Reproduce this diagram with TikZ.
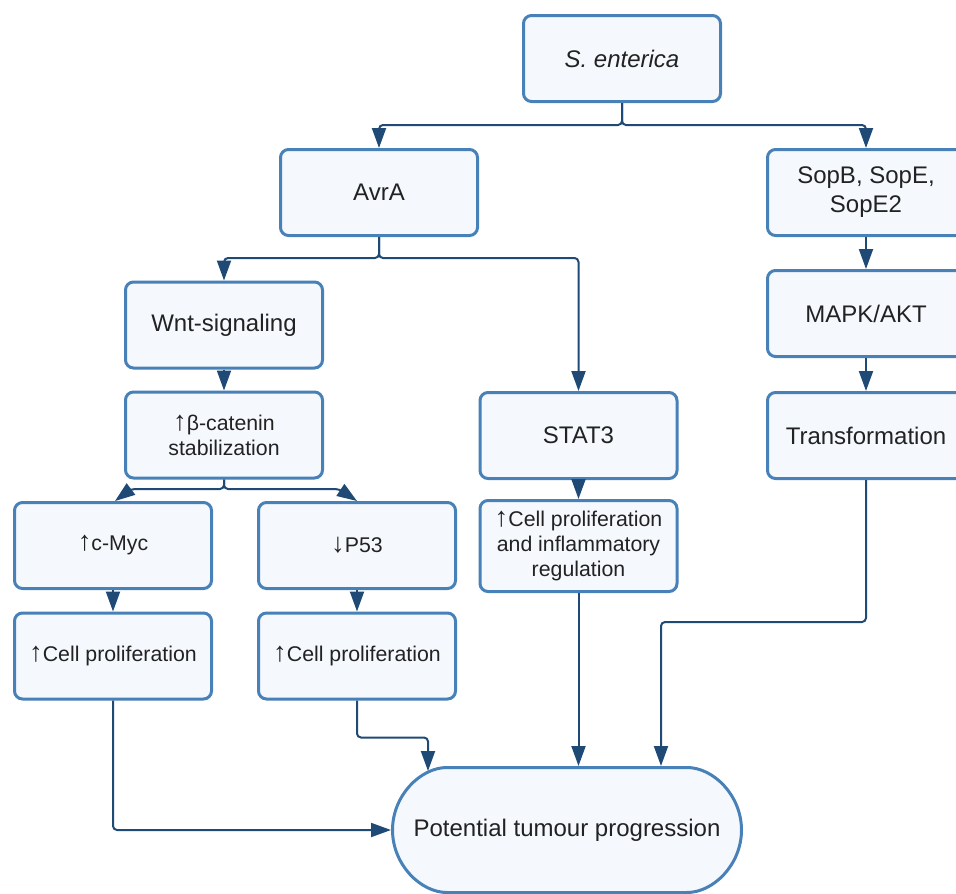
\documentclass[tikz,border=0pt]{standalone}
\usepackage{fontspec}
\usepackage{graphicx}
\setmainfont{Liberation Sans}
\usetikzlibrary{arrows.meta,shapes.misc,calc}
\definecolor{boxline}{RGB}{72,128,184}
\definecolor{boxfill}{RGB}{245,249,254}
\definecolor{wireblue}{RGB}{31,74,117}
\definecolor{ink}{RGB}{34,34,34}
% tall, slim up/down arrows used inside the labels
\newcommand\uparr{\resizebox{!}{0.72em}{↑}}
\newcommand\downarr{\resizebox{!}{0.72em}{↓}}

\begin{document}
\begin{tikzpicture}[x=1pt,y=-1pt,
  card/.style={draw=boxline, fill=boxfill, line width=3pt, rounded corners=8pt,
    minimum width=197pt, minimum height=86pt, align=center, text=ink,
    font=\fontsize{24}{29}\selectfont, inner sep=2pt},
  small/.style={font=\fontsize{21.3}{25}\selectfont},
  link/.style={draw=wireblue, line width=2pt,
    -{Triangle[length=20pt,width=14pt,sharp]}},
  elbow/.style={link, rounded corners=4pt},
]
\useasboundingbox (0,0) rectangle (956,894);

% boxes
\node[card] (senter) at (622,58.5) {\itshape S. enterica};
\node[card] (avra)   at (379,192.5) {AvrA};
\node[card] (sop)    at (866,192.5) {SopB, SopE,\\SopE2};
\node[card] (mapk)   at (866,313.5) {MAPK/AKT};
\node[card] (transf) at (866,435.5) {Transformation};
\node[card] (wnt)    at (224,325) {Wnt-signaling};
\node[card, small] (bcat) at (224,435) {\uparr β-catenin\\stabilization};
\node[card] (stat)   at (578.5,435.5) {STAT3};
\node[card, small, minimum height=91pt] (statp) at (578.5,546)
  {\uparr Cell proliferation\\and inflammatory\\regulation};
\node[card, small] (myc) at (113,545.5) {\uparr c-Myc};
\node[card, small] (p53) at (357,545.5) {\downarr P53};
\node[card, small] (cp1) at (113,656) {\uparr Cell proliferation};
\node[card, small] (cp2) at (357,656) {\uparr Cell proliferation};
\node[card, shape=rounded rectangle, minimum width=353pt, minimum height=125pt]
  (tumour) at (567,830) {Potential tumour progression};

% connectors
\draw[elbow] (senter.south) -- ++(0,22) -| (avra.north);
\draw[elbow] (senter.south) -- ++(0,22) -| (sop.north);
\draw[elbow] (avra.south) -- ++(0,21) -| (wnt.north);
\draw[elbow] (avra.south) -- ++(0,21) -| (stat.north);
\draw[link] (sop.south) -- (mapk.north);
\draw[link] (mapk.south) -- (transf.north);
\draw[link] (wnt.south) -- (bcat.north);
\draw[link] (stat.south) -- (statp.north);
\draw[link] (myc.south) -- (cp1.north);
\draw[link] (p53.south) -- (cp2.north);
\draw[elbow] (bcat.south) |- ([xshift=18pt,yshift=12pt]myc.north) -- ([xshift=2pt]myc.north);
\draw[elbow] (bcat.south) |- ([xshift=-18pt,yshift=12pt]p53.north) -- (p53.north);
\draw[elbow] (cp1.south) |- (tumour.west);
\draw[elbow] (cp2.south) -- ++(0,37) -| ($(tumour.north)+(-139,5)$);
\draw[link] (statp.south) -- (statp.south |- tumour.north);
\draw[elbow] (transf.south) -- ++(0,142) -| ($(tumour.north)+(94,0)$);
\end{tikzpicture}
\end{document}
